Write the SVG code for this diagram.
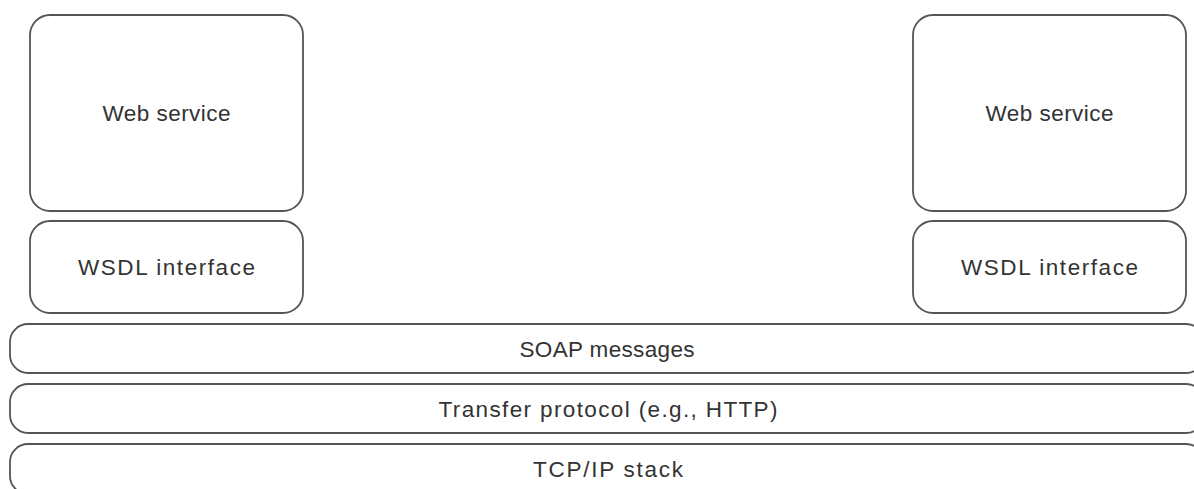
<svg xmlns="http://www.w3.org/2000/svg" width="1194" height="489" viewBox="0 0 1194 489">
<style>
.box{fill:#fff;stroke:#555;stroke-width:1.8}
.lbl{font-family:"Liberation Sans",Arial,sans-serif;font-size:22.5px;fill:#333;text-anchor:middle}
</style>
<rect x="0" y="0" width="1194" height="489" fill="#fff"/>
<g id="ws-left"><rect class="box" x="30" y="15" width="273" height="196" rx="20"/><text class="lbl" x="166.5" y="121" textLength="128" lengthAdjust="spacing">Web service</text></g>
<g id="wsdl-left"><rect class="box" x="30" y="221" width="273" height="92" rx="20"/><text class="lbl" x="166.5" y="275" textLength="177" lengthAdjust="spacing">WSDL interface</text></g>
<g id="ws-right"><rect class="box" x="913" y="15" width="273" height="196" rx="20"/><text class="lbl" x="1049.5" y="121" textLength="128" lengthAdjust="spacing">Web service</text></g>
<g id="wsdl-right"><rect class="box" x="913" y="221" width="273" height="92" rx="20"/><text class="lbl" x="1049.5" y="275" textLength="177" lengthAdjust="spacing">WSDL interface</text></g>
<g id="soap"><rect class="box" x="10" y="324" width="1194" height="49" rx="18"/><text class="lbl" x="607" y="357" textLength="175" lengthAdjust="spacing">SOAP messages</text></g>
<g id="transfer"><rect class="box" x="10" y="384" width="1194" height="49" rx="18"/><text class="lbl" x="608" y="417" textLength="339" lengthAdjust="spacing">Transfer protocol (e.g., HTTP)</text></g>
<g id="tcpip"><rect class="box" x="10" y="444" width="1194" height="50" rx="18"/><text class="lbl" x="608" y="477" textLength="150" lengthAdjust="spacing">TCP/IP stack</text></g>
<g id="connectors"></g>
</svg>
